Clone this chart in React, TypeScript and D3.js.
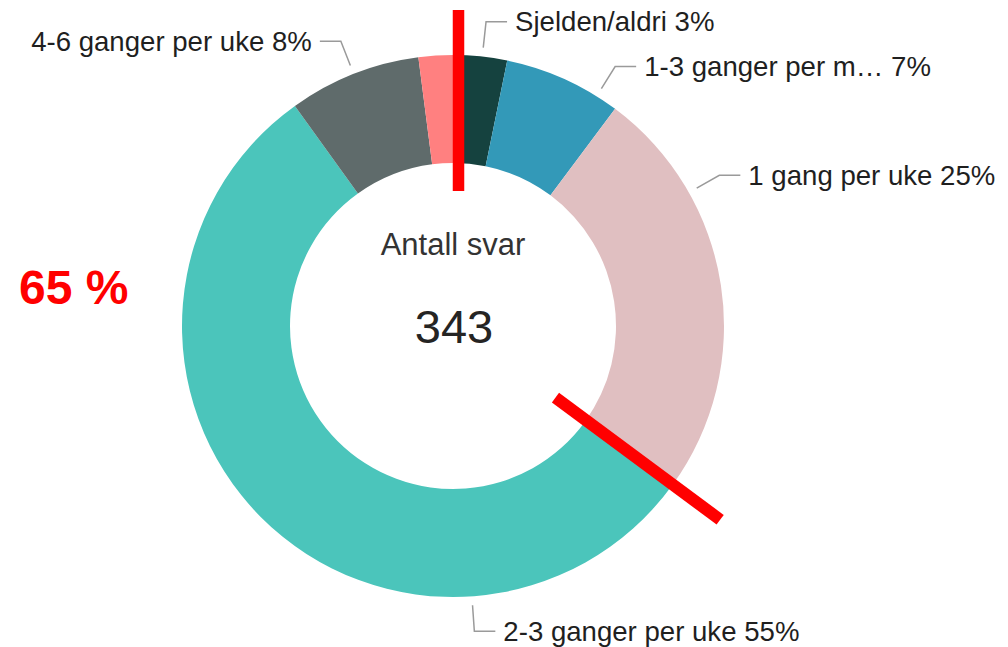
import { useEffect, useRef } from 'react';
import * as d3 from 'd3';

// answer counts per category, clockwise from 12 o'clock
const categories = ['Sjelden/aldri', '1-3 ganger per m…', '1 gang per uke', '2-3 ganger per uke', '4-6 ganger per uke', 'Daglig'];
const counts = [11, 24, 85, 189, 27, 7];
const colors = ['#15423f', '#3399b8', '#e0bfc1', '#4bc5bb', '#5f6b6b', '#ff8080'];
const showLabel = [true, true, true, true, true, false];
const centerTitle = 'Antall svar';
const annotationText = '65 %';

const W = 1008;
const H = 647;
const CX = 453;
const CY = 326;
const R_OUT = 271;
const R_IN = 163;
// where Power BI put each leader (degrees clockwise from top)
const LEADER_DEG = [6.2, 32, 60.5, 176, 338.5, 0];
const FONT = '"Liberation Sans", Arial, sans-serif';

export default function App() {
  const svgRef = useRef<SVGSVGElement>(null);

  useEffect(() => {
    document.body.style.margin = '0';
    const svg = d3.select(svgRef.current);
    svg.selectAll('*').remove();

    const total = d3.sum(counts);
    const data = categories.map((c, i) => ({ name: c, value: counts[i], color: colors[i], label: showLabel[i], leader: LEADER_DEG[i] }));

    const pie = d3.pie<any>().sort(null).value(d => d.value);
    const arcs = pie(data);
    const arc = d3.arc<any>().innerRadius(R_IN).outerRadius(R_OUT);

    const g = svg.append('g').attr('transform', `translate(${CX},${CY})`);

    g.selectAll('path.slice')
      .data(arcs)
      .join('path')
      .attr('class', 'slice')
      .attr('d', arc)
      .attr('fill', d => d.data.color);

    // leader lines + labels
    const polar = (deg: number, r: number): [number, number] => {
      const a = (deg * Math.PI) / 180;
      return [r * Math.sin(a), -r * Math.cos(a)];
    };
    const labels = g.selectAll('g.lbl')
      .data(arcs.filter(d => d.data.label))
      .join('g')
      .attr('class', 'lbl');

    labels.each(function (d) {
      const sel = d3.select(this);
      const p0 = polar(d.data.leader, 280);
      const p1 = polar(d.data.leader, 306);
      const right = p1[0] >= 0;
      const p2: [number, number] = [p1[0] + (right ? 21 : -21), p1[1]];
      sel.append('path')
        .attr('d', d3.line()([p0, p1, p2]))
        .attr('fill', 'none')
        .attr('stroke', '#9a9a9a')
        .attr('stroke-width', 1.5);
      const pct = Math.round((d.data.value / total) * 100);
      sel.append('text')
        .attr('x', p2[0] + (right ? 8 : -8))
        .attr('y', p2[1])
        .attr('dy', '0.35em')
        .attr('text-anchor', right ? 'start' : 'end')
        .attr('font-family', FONT)
        .attr('font-size', 27.6)
        .attr('fill', '#1f1f1f')
        .text(`${d.data.name} ${pct}%`);
    });

    // center
    g.append('text')
      .attr('x', 0).attr('y', -71)
      .attr('text-anchor', 'middle')
      .attr('font-family', FONT)
      .attr('font-size', 31)
      .attr('fill', '#333333')
      .text(centerTitle);
    g.append('text')
      .attr('x', 1).attr('y', 17)
      .attr('text-anchor', 'middle')
      .attr('font-family', FONT)
      .attr('font-size', 47)
      .attr('fill', '#252423')
      .text(d3.format('d')(total));

    // red annotation: split at start and at end of "1 gang per uke"
    const splitEnd = arcs[2].endAngle * 180 / Math.PI;
    const a0 = polar(0, 135);
    const a1 = polar(0, 316);
    g.append('line')
      .attr('x1', a0[0] + 5.5).attr('y1', a0[1])
      .attr('x2', a1[0] + 5.5).attr('y2', a1[1])
      .attr('stroke', '#ff0000').attr('stroke-width', 11.5);
    const b0 = polar(splitEnd - 1, 125);
    const b1 = polar(splitEnd, 330);
    g.append('line')
      .attr('x1', b0[0]).attr('y1', b0[1])
      .attr('x2', b1[0]).attr('y2', b1[1])
      .attr('stroke', '#ff0000').attr('stroke-width', 12);

    svg.append('text')
      .attr('x', 19).attr('y', 304)
      .attr('font-family', FONT)
      .attr('font-size', 48)
      .attr('font-weight', 'bold')
      .attr('fill', '#ff0000')
      .text(annotationText);
  }, []);

  return <svg ref={svgRef} width={W} height={H} style={{ display: 'block', background: '#fff' }} />;
}
